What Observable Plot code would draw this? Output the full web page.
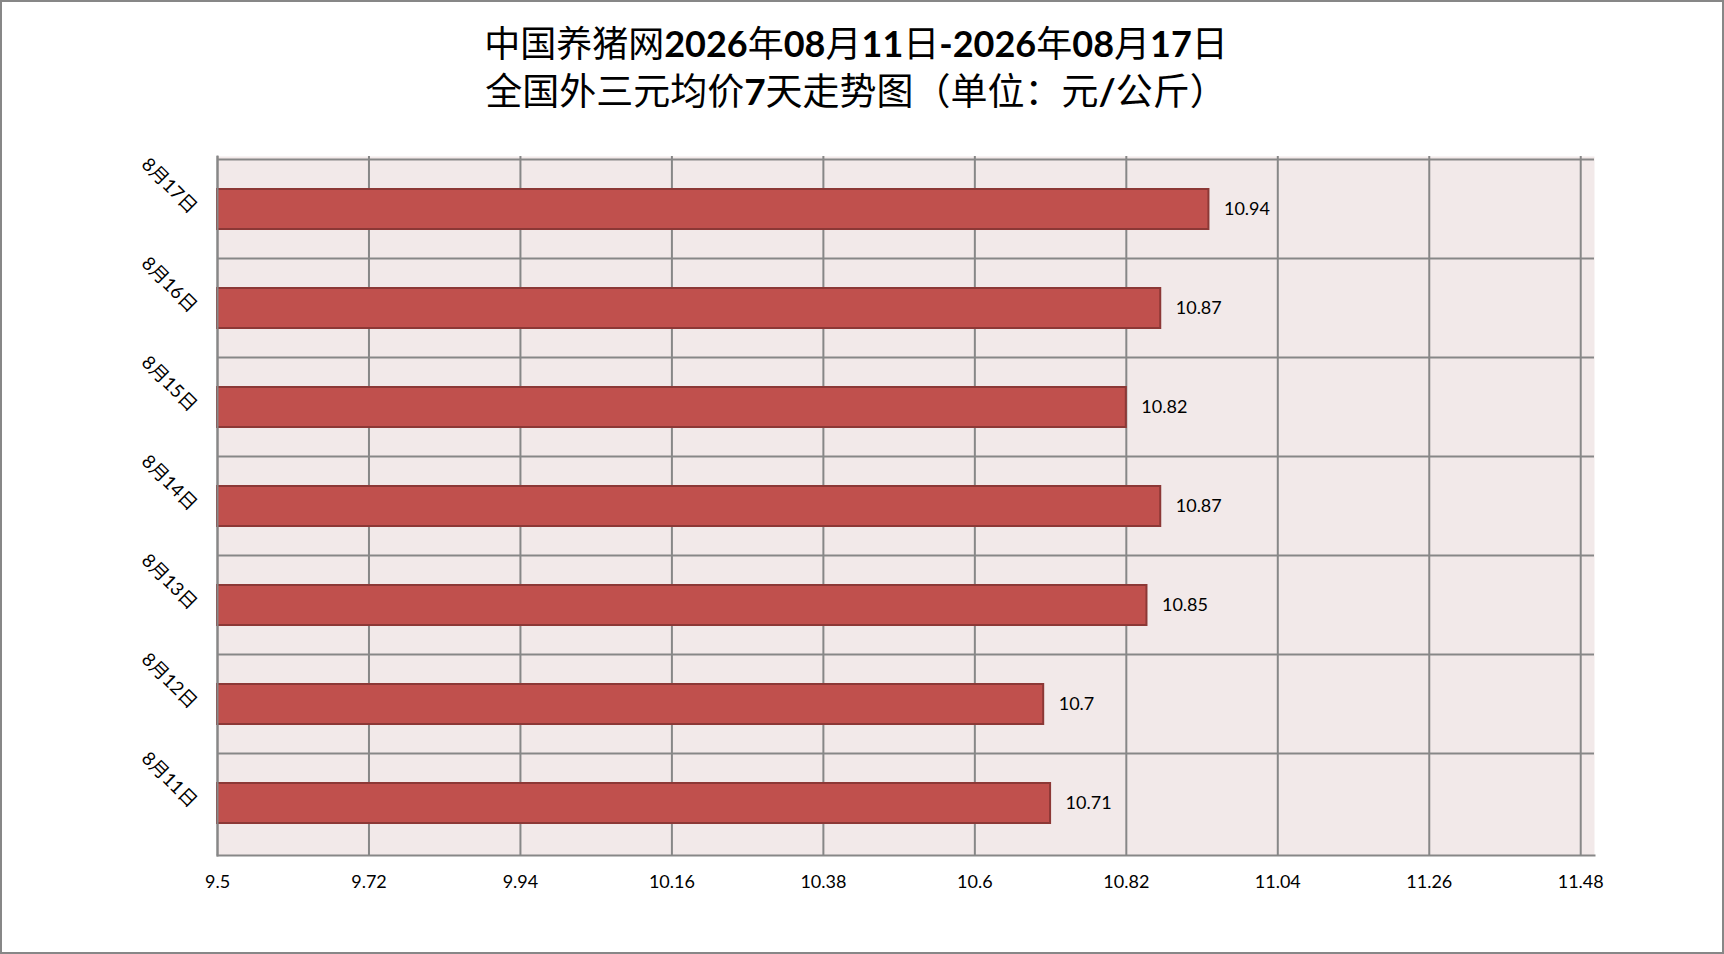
<!DOCTYPE html>
<html>
<head>
<meta charset="utf-8">
<script src="https://cdn.jsdelivr.net/npm/d3@7"></script>
<script src="https://cdn.jsdelivr.net/npm/@observablehq/plot@0.6"></script>
<style>
  html, body { margin: 0; padding: 0; background: #fff; }
  #chart { width: 1724px; height: 954px; box-sizing: border-box; border: 2px solid #878787; background: #fff; overflow: hidden; }
  #title { height: 108px; box-sizing: border-box; padding-top: 16px; padding-right: 12px; text-align: center; font-family: "Noto Sans CJK SC", sans-serif; font-size: 36px; line-height: 46px; color: #000; white-space: nowrap; }
  #title .l2 { font-size: 37px; }
  #title b { font-family: Lato, "Noto Sans CJK SC", sans-serif; font-weight: bold; }
</style>
</head>
<body>
<div id="chart">
  <div id="title"></div>
</div>
<script>
// ---- data ----
const titleLines = ["中国养猪网2026年08月11日-2026年08月17日", "全国外三元均价7天走势图（单位：元/公斤）"];
const dates = ["8月11日", "8月12日", "8月13日", "8月14日", "8月15日", "8月16日", "8月17日"];
const prices = [10.71, 10.7, 10.85, 10.87, 10.82, 10.87, 10.94];
const xTicks = [9.5, 9.72, 9.94, 10.16, 10.38, 10.6, 10.82, 11.04, 11.26, 11.48];
const xDomain = [9.5, 11.5];

// ---- title (ASCII runs bold, like the reference) ----
const titleEl = document.getElementById("title");
titleEl.innerHTML = titleLines.map((line, i) =>
  `<span class="l${i + 1}">` + line.replace(/[\x20-\x7e]+/g, m => `<b>${m}</b>`) + `</span>`
).join("<br>");

const data = dates.map((d, i) => ({date: d, price: prices[i]}));

const W = 1720, H = 842;
const mL = 215, mR = 128, mT = 46, mB = 97;
const step = (H - mT - mB) / dates.length;
const gridColor = "#878787";

const chart = Plot.plot({
  width: W,
  height: H,
  marginLeft: mL,
  marginRight: mR,
  marginTop: mT,
  marginBottom: mB,
  style: {fontFamily: "Lato, 'Noto Sans CJK SC', sans-serif", fontSize: "18px", color: "#000", background: "#fff"},
  x: {domain: xDomain, ticks: xTicks, label: null},
  y: {domain: dates.slice().reverse(), padding: 0.6, paddingOuter: 0.3, axis: null},
  marks: [
    Plot.frame({fill: "#F2E9E9", stroke: null}),
    Plot.ruleX(xTicks, {stroke: gridColor, strokeWidth: 2}),
    Plot.ruleY(dates, {y: d => d, dy: -step / 2, stroke: gridColor, strokeWidth: 2}),
    Plot.frame({anchor: "bottom", stroke: gridColor, strokeWidth: 2, strokeOpacity: 1}),
    Plot.barX(data, {x1: xDomain[0], x2: "price", y: "date", fill: "#C0504D", stroke: "#8C3836", strokeWidth: 2}),
    Plot.frame({anchor: "left", stroke: gridColor, strokeWidth: 2, strokeOpacity: 1}),
    Plot.text(data, {x: "price", y: "date", text: d => String(d.price), dx: 15, textAnchor: "start", fontSize: 18, fill: "#000"}),
    Plot.text(dates, {y: d => d, frameAnchor: "left", text: d => d, dx: -28, dy: 5, rotate: 45, textAnchor: "end", lineAnchor: "bottom", fontSize: 18.5, fill: "#000"}),
    Plot.axisX({ticks: xTicks, tickSize: 0, tickPadding: 20, tickFormat: d => String(d), fontSize: 18, label: null, anchor: "bottom"})
  ]
});
document.getElementById("chart").appendChild(chart);
</script>
</body>
</html>
